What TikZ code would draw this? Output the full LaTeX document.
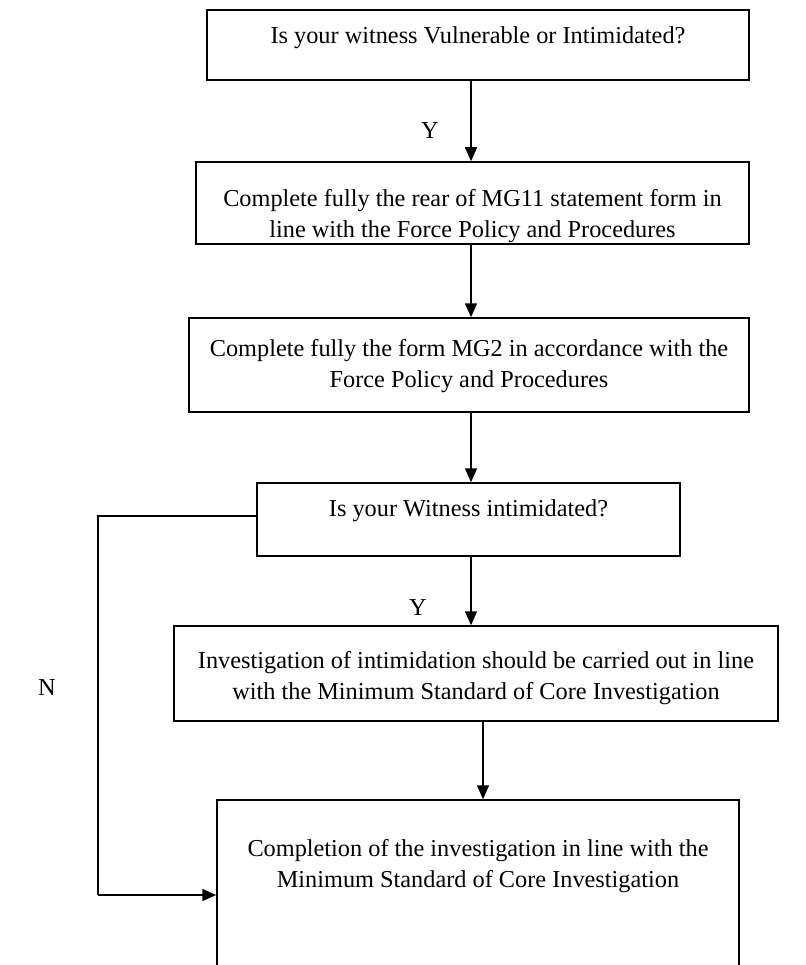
\documentclass[tikz,border=0pt]{standalone}
\usepackage{fontspec}
\setmainfont{Liberation Serif}
\usetikzlibrary{arrows.meta}
\begin{document}
\begin{tikzpicture}[x=1pt,y=-1pt,
  box/.style={draw=black,line width=1.5pt,inner sep=0pt,fill=white},
  txt/.style={inner sep=0pt,align=center,font=\fontsize{24.3}{31}\selectfont},
  lbl/.style={inner sep=0pt,font=\fontsize{24.3}{28}\selectfont},
  arr/.style={line width=1.5pt,-{Triangle[length=14pt,width=12pt]}},
  conn/.style={line width=1.5pt}]
\fill[white] (0,0) rectangle (805,965);
\useasboundingbox (0,0) rectangle (805,965);
\clip (0,0) rectangle (805,965);
\node[box,minimum width=542pt,minimum height=70pt] (b1) at (478,45) {};
\node[box,minimum width=553pt,minimum height=82pt] (b2) at (472.5,203) {};
\node[box,minimum width=560pt,minimum height=94pt] (b3) at (469,365) {};
\node[box,minimum width=423pt,minimum height=73pt] (b4) at (468.5,519.5) {};
\node[box,minimum width=604pt,minimum height=95pt] (b5) at (476,673.5) {};
\node[box,minimum width=522pt,minimum height=180pt] (b6) at (478,890) {};
\node[txt] (t1) at (478,38) {Is your witness Vulnerable or Intimidated?};
\node[txt] (t2) at (472.5,216) {Complete fully the rear of MG11 statement form in\\line with the Force Policy and Procedures};
\node[txt] (t3) at (469,366) {Complete fully the form MG2 in accordance with the\\Force Policy and Procedures};
\node[txt] (t4) at (468.5,511) {Is your Witness intimidated?};
\node[txt] (t5) at (476,678) {Investigation of intimidation should be carried out in line\\with the Minimum Standard of Core Investigation};
\node[txt] (t6) at (478,866) {Completion of the investigation in line with the\\Minimum Standard of Core Investigation};
\node[lbl] (y1) at (430,131) {Y};
\node[lbl] (y2) at (418,608) {Y};
\node[lbl] (n1) at (47,688) {N};
\coordinate (ca) at (471,0);
\coordinate (cb) at (483,0);
\coordinate (cl) at (98,516);
\coordinate (cd) at (98,895);
\draw[arr] (b1.south -| ca) -- (b2.north -| ca);
\draw[arr] (b2.south -| ca) -- (b3.north -| ca);
\draw[arr] (b3.south -| ca) -- (b4.north -| ca);
\draw[arr] (b4.south -| ca) -- (b5.north -| ca);
\draw[arr] (b5.south -| cb) -- (b6.north -| cb);
\draw[conn] (b4.west |- cl) -- (cl) -- (cd);
\draw[arr] (cd) -- (b6.west |- cd);
\end{tikzpicture}
\end{document}
